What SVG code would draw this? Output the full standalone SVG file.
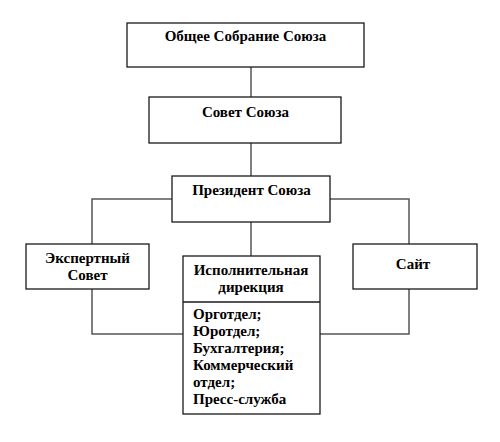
<svg xmlns="http://www.w3.org/2000/svg" width="500" height="442" viewBox="0 0 500 442">
<style>
.box{fill:#fff;stroke:#1a1a1a;stroke-width:1.3}
.ln{fill:none;stroke:#555;stroke-width:1.5}
text{font-family:'Liberation Serif',serif;font-weight:bold;font-size:15px;fill:#000}
.c{text-anchor:middle}
</style>
<rect width="500" height="442" fill="#fff"/>
<g id="connectors">
<line class="ln" x1="251" y1="67" x2="251" y2="97"/>
<line class="ln" x1="251" y1="143" x2="251" y2="176"/>
<line class="ln" x1="251" y1="222" x2="251" y2="256"/>
<polyline class="ln" points="172,199 92,199 92,244"/>
<polyline class="ln" points="330,199 409,199 409,244"/>
<polyline class="ln" points="92,289 92,334 183,334"/>
<polyline class="ln" points="409,289 409,334 320,334"/>
</g>
<g id="general-assembly">
<rect class="box" x="127" y="23" width="237" height="44"/>
<text class="c" x="245.5" y="41">Общее Собрание Союза</text>
</g>
<g id="council">
<rect class="box" x="149" y="97" width="192" height="46"/>
<text class="c" x="245.5" y="116.5">Совет Союза</text>
</g>
<g id="president">
<rect class="box" x="172" y="176" width="158" height="46"/>
<text class="c" x="251.5" y="195">Президент Союза</text>
</g>
<g id="expert-council">
<rect class="box" x="26" y="244" width="123" height="45"/>
<text class="c" x="87.5" y="263">Экспертный</text>
<text class="c" x="87.5" y="280">Совет</text>
</g>
<g id="site">
<rect class="box" x="353" y="244" width="124" height="45"/>
<text class="c" x="413" y="269">Сайт</text>
</g>
<g id="executive">
<rect class="box" x="183" y="256" width="137" height="158"/>
<line class="box" x1="183" y1="302" x2="320" y2="302"/>
<text class="c" x="251" y="275">Исполнительная</text>
<text class="c" x="251" y="292">дирекция</text>
<text x="193" y="319">Орготдел;</text>
<text x="193" y="336">Юротдел;</text>
<text x="193" y="353">Бухгалтерия;</text>
<text x="193" y="370">Коммерческий</text>
<text x="193" y="387">отдел;</text>
<text x="193" y="404">Пресс-служба</text>
</g>
</svg>
